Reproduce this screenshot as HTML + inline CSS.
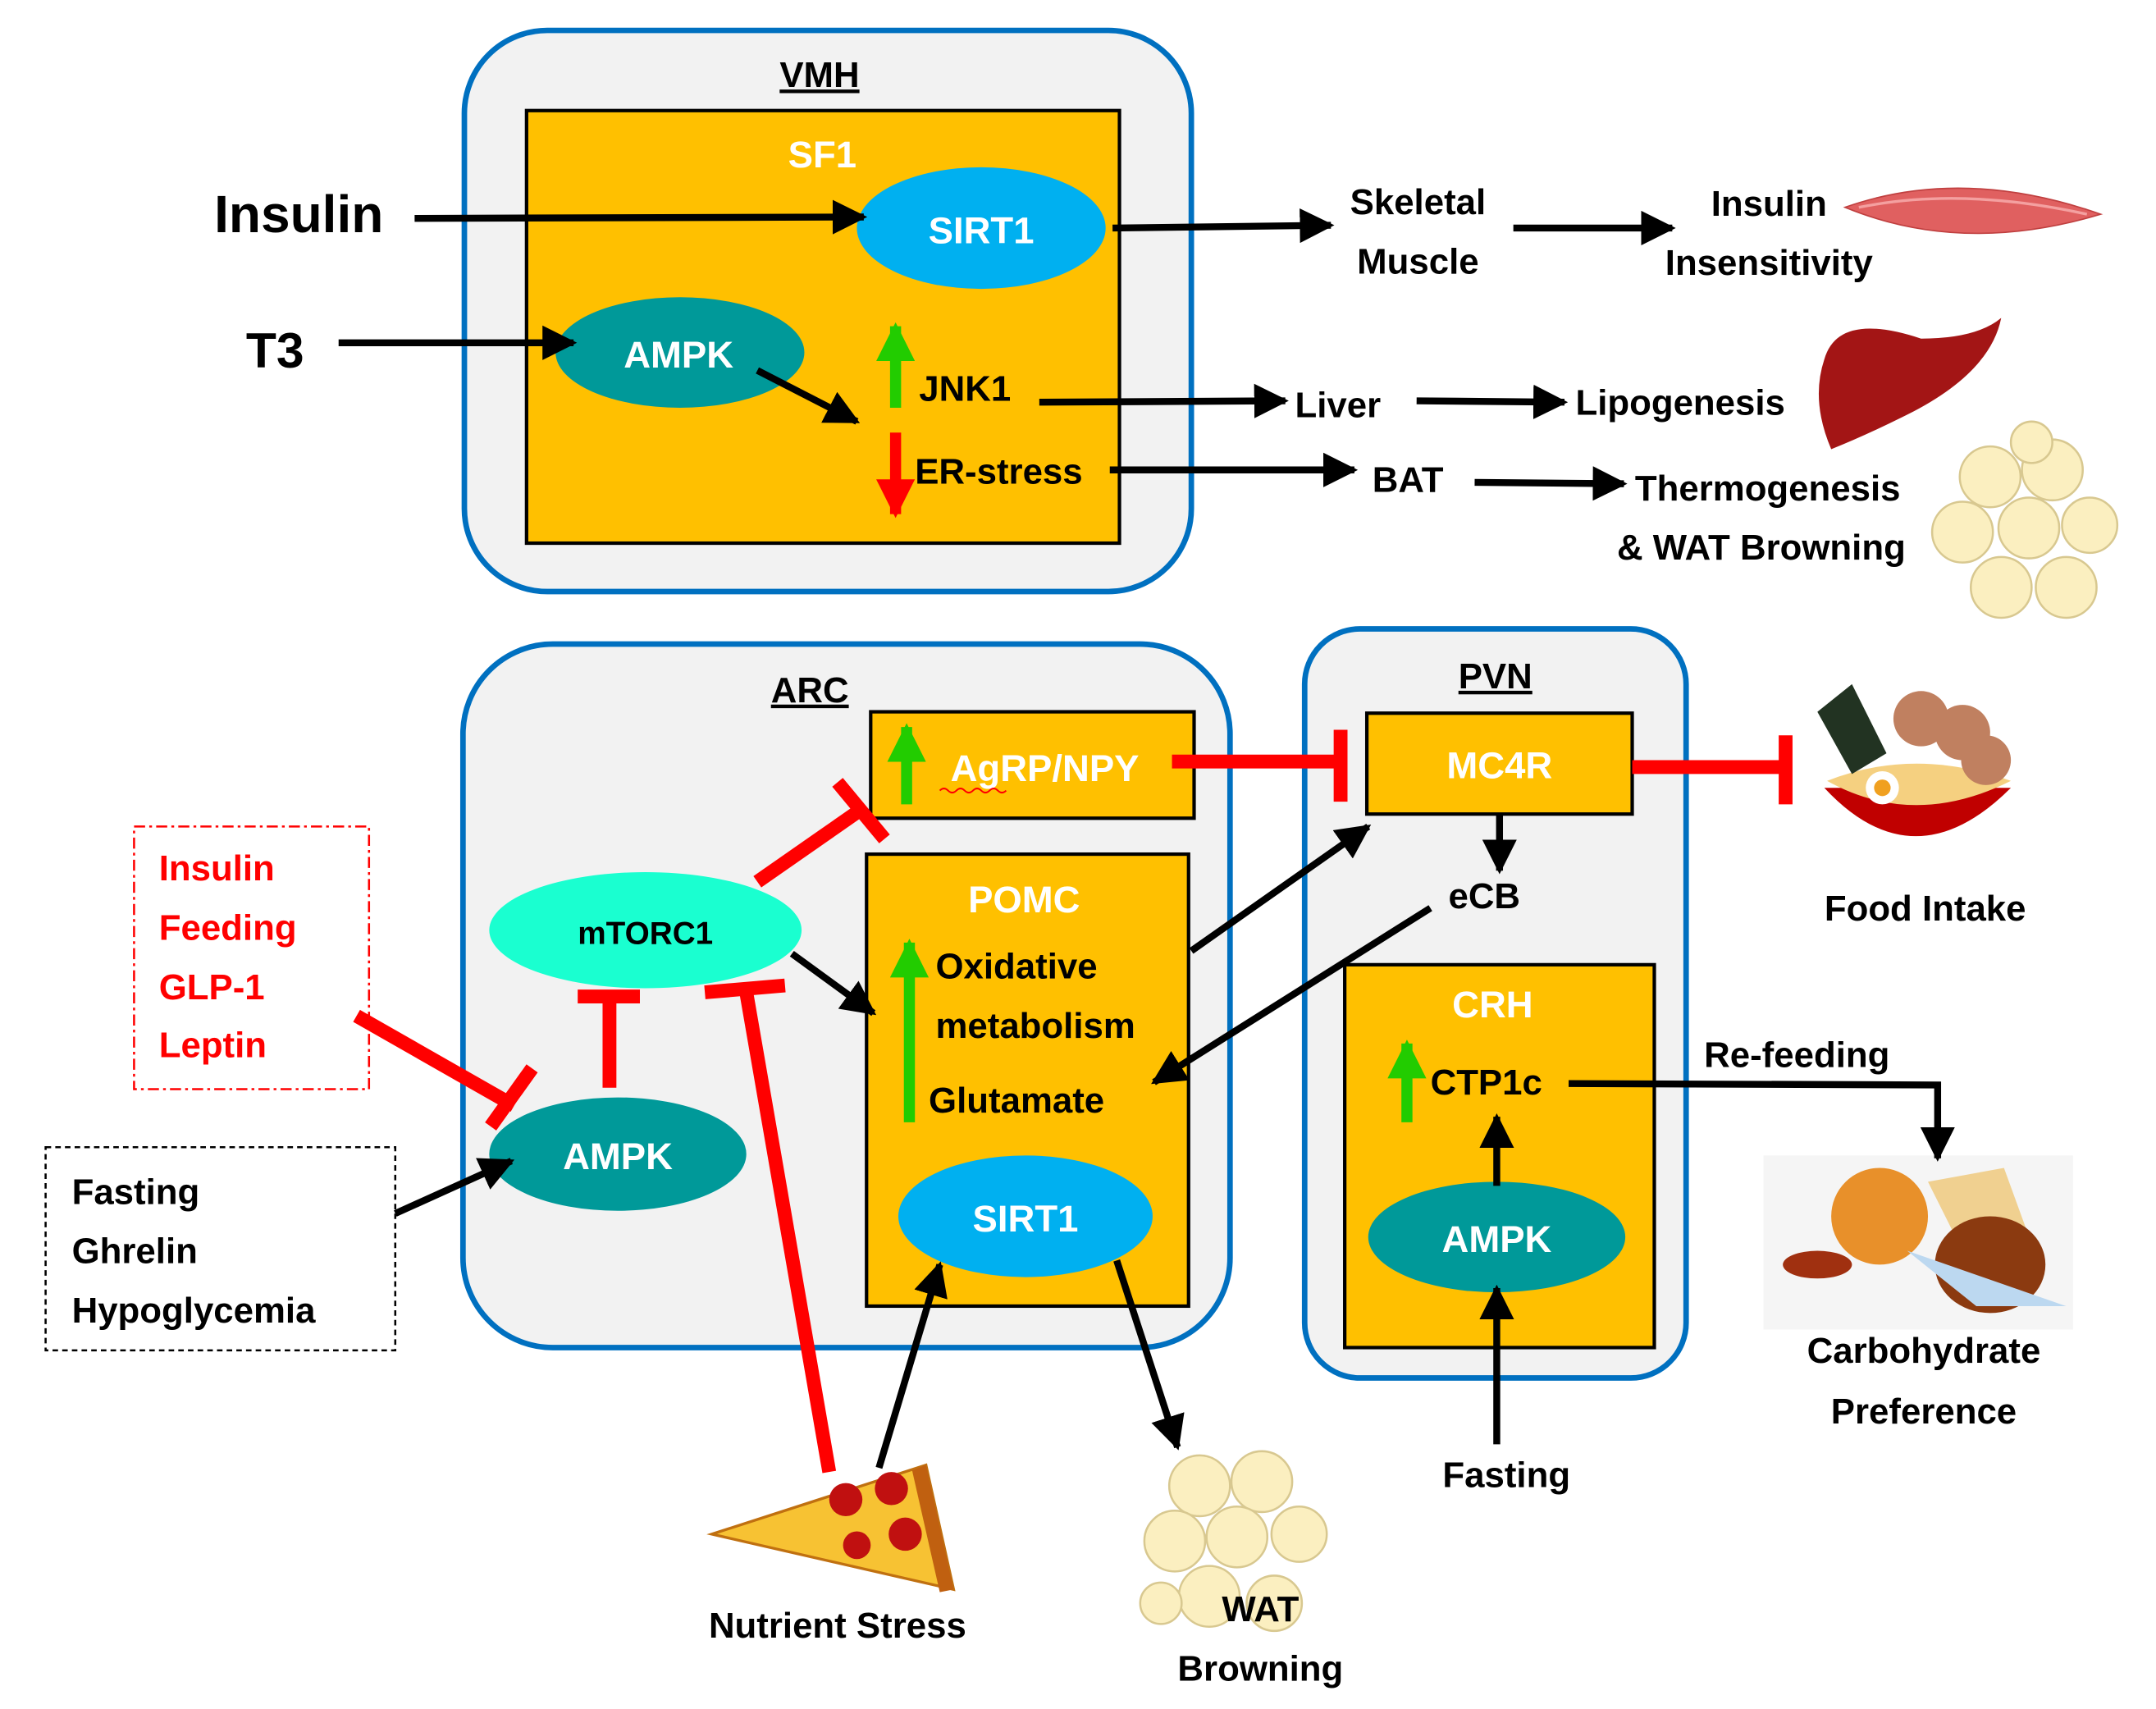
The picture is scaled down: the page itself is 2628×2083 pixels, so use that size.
<!DOCTYPE html>
<html><head><meta charset="utf-8"><style>html,body{margin:0;padding:0;background:#fff}svg{display:block}text{font-family:"Liberation Sans",sans-serif;font-weight:bold}</style></head><body>
<svg width="2628" height="2083" viewBox="0 0 1560 1236.5" preserveAspectRatio="none" xmlns="http://www.w3.org/2000/svg">
<defs>
<marker id="a" viewBox="0 0 10 10" refX="9" refY="5" markerWidth="5" markerHeight="5" orient="auto" markerUnits="strokeWidth"><path d="M0,0L10,5L0,10z" fill="#000"/></marker>
<marker id="g" viewBox="0 0 10 10" refX="9" refY="5" markerWidth="3.5" markerHeight="3.5" orient="auto" markerUnits="strokeWidth"><path d="M0,0L10,5L0,10z" fill="#22cc00"/></marker>
<marker id="r" viewBox="0 0 10 10" refX="9" refY="5" markerWidth="3.5" markerHeight="3.5" orient="auto" markerUnits="strokeWidth"><path d="M0,0L10,5L0,10z" fill="#ff0000"/></marker>
</defs>
<rect x="336" y="22" width="526" height="406" rx="60" fill="#f2f2f2" stroke="#0070c0" stroke-width="4"/>
<rect x="381" y="80" width="429" height="313" fill="#ffc000" stroke="#000" stroke-width="2.5"/>
<rect x="335" y="466" width="555" height="509" rx="65" fill="#f2f2f2" stroke="#0070c0" stroke-width="4"/>
<rect x="944" y="455" width="276" height="542" rx="40" fill="#f2f2f2" stroke="#0070c0" stroke-width="4"/>
<rect x="630" y="515" width="234" height="77" fill="#ffc000" stroke="#000" stroke-width="2.5"/>
<rect x="627" y="618" width="233" height="327" fill="#ffc000" stroke="#000" stroke-width="2.5"/>
<rect x="989" y="516" width="192" height="73" fill="#ffc000" stroke="#000" stroke-width="2.5"/>
<rect x="973" y="698" width="224" height="277" fill="#ffc000" stroke="#000" stroke-width="2.5"/>
<rect x="97" y="598" width="170" height="190" fill="none" stroke="#ff0000" stroke-width="1.5" stroke-dasharray="8,3,2,3"/>
<rect x="33" y="830" width="253" height="147" fill="#fff" stroke="#000" stroke-width="1.5" stroke-dasharray="4,3"/>
<text x="593" y="63" font-size="26" text-anchor="middle" text-decoration="underline">VMH</text>
<text x="586" y="508" font-size="26" text-anchor="middle" text-decoration="underline">ARC</text>
<text x="1082" y="498" font-size="26" text-anchor="middle" text-decoration="underline">PVN</text>
<ellipse cx="710" cy="165" rx="90" ry="44" fill="#00b0f0"/>
<ellipse cx="492" cy="255" rx="90" ry="40" fill="#009999"/>
<ellipse cx="467" cy="673" rx="113" ry="42" fill="#1affd0"/>
<ellipse cx="447" cy="835" rx="93" ry="41" fill="#009999"/>
<ellipse cx="742" cy="880" rx="92" ry="44" fill="#00b0f0"/>
<ellipse cx="1083" cy="895" rx="93" ry="40" fill="#009999"/>
<g fill="#fff" font-size="27" text-anchor="middle">
<text x="595" y="121">SF1</text><text x="710" y="176">SIRT1</text><text x="491" y="266">AMPK</text>
<text x="447" y="846">AMPK</text><text x="742" y="891">SIRT1</text><text x="1083" y="906">AMPK</text>
<text x="741" y="660">POMC</text><text x="1085" y="563">MC4R</text><text x="1080" y="736">CRH</text>
<text x="756" y="565">AgRP/NPY</text>
</g>
<path d="M680 572 q3 -3 6 0 t6 0 t6 0 t6 0 t6 0 t6 0 t6 0 t6 0" fill="none" stroke="#ff0000" stroke-width="1.2"/>
<text x="467" y="683" font-size="23" text-anchor="middle" fill="#000">mTORC1</text>
<g>
<path d="M1335 150 Q1420 120 1520 155 Q1420 185 1335 150z" fill="#e06060" stroke="#c04040"/>
<path d="M1345 150 Q1420 135 1510 155" fill="none" stroke="#f4a0a0" stroke-width="2"/>
<path d="M1320 260 Q1330 225 1390 245 Q1430 245 1448 230 Q1440 270 1380 300 Q1350 315 1325 325 Q1310 290 1320 260z" fill="#a31515"/>
</g>
<g fill="#fbefc0" stroke="#d8c890" stroke-width="1.5">
<circle cx="1440" cy="345" r="22"/><circle cx="1485" cy="340" r="22"/><circle cx="1420" cy="385" r="22"/><circle cx="1468" cy="382" r="22"/><circle cx="1512" cy="380" r="20"/><circle cx="1448" cy="425" r="22"/><circle cx="1495" cy="425" r="22"/><circle cx="1470" cy="320" r="15"/>
<circle cx="868" cy="1075" r="22"/><circle cx="913" cy="1072" r="22"/><circle cx="850" cy="1115" r="22"/><circle cx="895" cy="1112" r="22"/><circle cx="940" cy="1110" r="20"/><circle cx="875" cy="1155" r="22"/><circle cx="922" cy="1160" r="20"/><circle cx="840" cy="1160" r="15"/>
</g>
<g>
<path d="M1320 570 Q1385 640 1455 570z" fill="#c00000"/>
<path d="M1322 565 Q1385 600 1455 565 Q1385 540 1322 565z" fill="#f5d080"/>
<circle cx="1390" cy="520" r="20" fill="#c08060"/><circle cx="1420" cy="530" r="20" fill="#c08060"/><circle cx="1437" cy="550" r="18" fill="#c08060"/>
<path d="M1315 515 L1340 495 L1365 545 L1340 560z" fill="#223322"/>
<circle cx="1362" cy="570" r="12" fill="#fff"/><circle cx="1362" cy="570" r="6" fill="#f0a020"/>
</g>
<g>
<rect x="1276" y="836" width="224" height="126" fill="#f5f5f5"/>
<circle cx="1360" cy="880" r="35" fill="#e8902a"/><path d="M1395 855 L1450 845 L1470 900 L1420 905z" fill="#f0d090"/>
<ellipse cx="1440" cy="915" rx="40" ry="35" fill="#8b3a10"/><path d="M1380 905 L1430 945 L1495 945z" fill="#bcd8f0"/>
<ellipse cx="1315" cy="915" rx="25" ry="10" fill="#a03010"/>
</g>
<g>
<path d="M515 1110 L670 1060 L690 1150 Z" fill="#f7c233" stroke="#c07010" stroke-width="2"/>
<path d="M670 1060 L690 1150 L680 1152 L660 1064z" fill="#c06010"/>
<circle cx="612" cy="1085" r="12" fill="#c01010"/><circle cx="645" cy="1077" r="12" fill="#c01010"/><circle cx="655" cy="1110" r="12" fill="#c01010"/><circle cx="620" cy="1118" r="10" fill="#c01010"/>
</g>
<g font-size="26" fill="#000">
<text x="155" y="168" font-size="38">Insulin</text>
<text x="178" y="266" font-size="36">T3</text>
<text x="665" y="290">JNK1</text><text x="662" y="350">ER-stress</text>
<text x="1026" y="155" text-anchor="middle">Skeletal</text><text x="1026" y="198" text-anchor="middle">Muscle</text>
<text x="1280" y="156" text-anchor="middle">Insulin</text><text x="1280" y="199" text-anchor="middle">Insensitivity</text>
<text x="937" y="302">Liver</text><text x="1140" y="300">Lipogenesis</text>
<text x="993" y="356">BAT</text><text x="1183" y="362">Thermogenesis</text><text x="1170" y="405">&amp; WAT Browning</text>
<text x="677" y="708">Oxidative</text><text x="677" y="751">metabolism</text><text x="672" y="805">Glutamate</text>
<text x="1048" y="657">eCB</text><text x="1035" y="792">CTP1c</text>
<text x="1233" y="772">Re-feeding</text>
<text x="1393" y="666" text-anchor="middle">Food Intake</text>
<text x="1392" y="986" text-anchor="middle">Carbohydrate</text><text x="1392" y="1030" text-anchor="middle">Preference</text>
<text x="1090" y="1076" text-anchor="middle">Fasting</text>
<text x="606" y="1185" text-anchor="middle">Nutrient Stress</text>
<text x="912" y="1173" text-anchor="middle">WAT</text><text x="912" y="1216" text-anchor="middle">Browning</text>
<text x="52" y="871">Fasting</text><text x="52" y="914">Ghrelin</text><text x="52" y="957">Hypoglycemia</text>
</g>
<g font-size="26" fill="#ff0000"><text x="115" y="637">Insulin</text><text x="115" y="680">Feeding</text><text x="115" y="723">GLP-1</text><text x="115" y="765">Leptin</text></g>
<g stroke="#000" stroke-width="5" fill="none" marker-end="url(#a)">
<path d="M300 158 L625 157"/><path d="M245 248 L415 248"/><path d="M548 268 L620 305"/>
<path d="M805 165 L963 163"/><path d="M1095 165 L1210 165"/>
<path d="M752 291 L930 290"/><path d="M1025 290 L1132 291"/>
<path d="M803 340 L980 340"/><path d="M1067 349 L1175 350"/>
<path d="M573 690 L632 733"/><path d="M286 878 L370 840"/>
<path d="M636 1062 L680 915"/><path d="M808 912 L852 1047"/>
<path d="M862 688 L990 598"/><path d="M1035 657 L835 783"/>
<path d="M1085 590 L1085 630"/><path d="M1083 858 L1083 808"/><path d="M1083 1045 L1083 932"/>
<path d="M1135 784 L1402 785 L1402 838"/>
</g>
<g stroke-width="8" fill="none">
<path d="M648 295 L648 236" stroke="#22cc00" marker-end="url(#g)"/>
<path d="M648 313 L648 372" stroke="#ff0000" marker-end="url(#r)"/>
<path d="M656 582 L656 526" stroke="#22cc00" marker-end="url(#g)"/>
<path d="M658 812 L658 682" stroke="#22cc00" marker-end="url(#g)"/>
<path d="M1018 812 L1018 755" stroke="#22cc00" marker-end="url(#g)"/>
</g>
<g stroke="#ff0000" stroke-width="10" fill="none">
<path d="M258 735 L372 800"/><path d="M355 815 L385 773"/>
<path d="M441 787 L441 722"/><path d="M418 721 L463 721"/>
<path d="M600 1065 L540 718"/><path d="M510 718 L568 713"/>
<path d="M548 638 L624 585"/><path d="M606 566 L640 607"/>
<path d="M848 551 L966 551"/><path d="M970 528 L970 580"/>
<path d="M1181 555 L1288 555"/><path d="M1292 532 L1292 582"/>
</g>
</svg>
</body></html>
